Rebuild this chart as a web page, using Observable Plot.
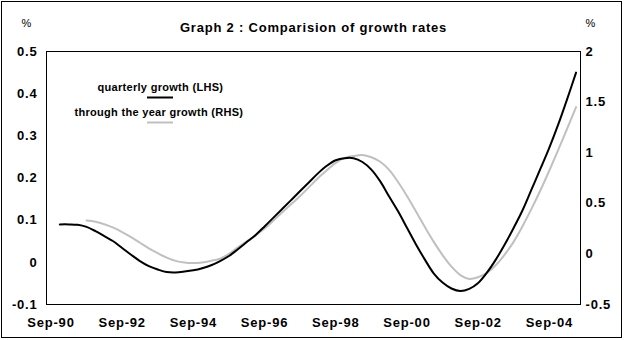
<!DOCTYPE html>
<html>
<head>
<meta charset="utf-8">
<script src="https://cdn.jsdelivr.net/npm/d3@7"></script>
<script src="https://cdn.jsdelivr.net/npm/@observablehq/plot@0.6"></script>
<style>
  html, body { margin: 0; padding: 0; background: white; }
</style>
</head>
<body>
<div id="chart"></div>
<script>
// Quarter index 0 = Sep-90 ... 59 = Jun-05
const xTicks = [0, 8, 16, 24, 32, 40, 48, 56];
const xTickLabels = ["Sep-90", "Sep-92", "Sep-94", "Sep-96", "Sep-98", "Sep-00", "Sep-02", "Sep-04"];
const leftTicks = [-0.1, 0, 0.1, 0.2, 0.3, 0.4, 0.5];
const rightTicks = [-0.5, 0, 0.5, 1, 1.5, 2];

// quarterly growth (LHS), %, from Sep-90 (index 0)
const quarterlyGrowth = [
  null, 0.090, 0.090, 0.089, 0.084, 0.074, 0.062, 0.050, 0.034, 0.018,
  0.003, -0.009, -0.017, -0.023, -0.024, -0.022, -0.019, -0.014, -0.007, 0.003,
  0.015, 0.031, 0.048, 0.065, 0.085, 0.106, 0.127, 0.148, 0.169, 0.190,
  0.211, 0.229, 0.242, 0.247, 0.247, 0.238, 0.220, 0.192, 0.156, 0.121,
  0.082, 0.043, 0.007, -0.026, -0.048, -0.062, -0.068, -0.063, -0.049, -0.024,
  0.007, 0.043, 0.082, 0.124, 0.173, 0.222, 0.272, 0.327, 0.387, 0.450
];

// through the year growth (RHS), %, from Sep-90 (index 0)
const throughYearGrowth = [
  null, null, null, null, 0.330, 0.318, 0.293, 0.259, 0.215, 0.165,
  0.110, 0.055, 0.007, -0.037, -0.069, -0.086, -0.091, -0.084, -0.068, -0.048,
  0.001, 0.064, 0.124, 0.182, 0.250, 0.331, 0.412, 0.492, 0.572, 0.660,
  0.748, 0.826, 0.899, 0.949, 0.967, 0.977, 0.955, 0.911, 0.830, 0.710,
  0.572, 0.422, 0.268, 0.121, -0.012, -0.125, -0.209, -0.247, -0.230, -0.187,
  -0.110, -0.005, 0.121, 0.275, 0.447, 0.629, 0.824, 1.027, 1.237, 1.450
];

const idx = d3.range(quarterlyGrowth.length);
const toLeft = d3.scaleLinear([-0.5, 2], [-0.1, 0.5]);
const fmt = d => String(Math.round(d * 10) / 10);

const plot = Plot.plot({
  width: 626,
  height: 340,
  marginLeft: 46,
  marginRight: 46,
  marginTop: 51,
  marginBottom: 36,
  style: "font-family: 'Liberation Sans', Arial, sans-serif; font-size: 13px; font-weight: bold; letter-spacing: 0.8px; background: white; overflow: visible; color: black;",
  x: { domain: [-0.5, 59.5], axis: null },
  y: { domain: [-0.1, 0.5], axis: null },
  marks: [
    Plot.axisX(xTicks, { anchor: "bottom", tickSize: 0, tickPadding: 13, tickFormat: d => xTickLabels[xTicks.indexOf(d)], label: null }),
    Plot.axisY(leftTicks, { anchor: "left", tickSize: 0, tickPadding: 9, tickFormat: fmt, label: null }),
    Plot.axisY(rightTicks.map(toLeft), { anchor: "right", tickSize: 0, tickPadding: 5, tickFormat: d => fmt(toLeft.invert(d)), label: null }),
    Plot.line(idx, { x: i => i, y: i => throughYearGrowth[i] == null ? NaN : toLeft(throughYearGrowth[i]), stroke: "#c0c0c0", strokeWidth: 2, curve: "catmull-rom" }),
    Plot.line(idx, { x: i => i, y: i => quarterlyGrowth[i] == null ? NaN : quarterlyGrowth[i], stroke: "black", strokeWidth: 2, curve: "catmull-rom" }),
    Plot.frame({ stroke: "black" }),
    Plot.text(["Graph 2 : Comparision of growth rates"], { frameAnchor: "top", dy: -24, lineAnchor: "middle", fontSize: 13 }),
    Plot.text(["%"], { frameAnchor: "top-left", textAnchor: "middle", dx: -20, dy: -28, lineAnchor: "middle", fontSize: 11, fontWeight: "normal" }),
    Plot.text(["%"], { frameAnchor: "top-right", textAnchor: "middle", dx: 10, dy: -28, lineAnchor: "middle", fontSize: 11, fontWeight: "normal" }),
    Plot.text(["quarterly growth (LHS)"], { frameAnchor: "top-left", textAnchor: "start", dx: 51, dy: 35.5, lineAnchor: "middle", fontSize: 11 }),
    Plot.text(["through the year growth (RHS)"], { frameAnchor: "top-left", textAnchor: "start", dx: 28, dy: 60.5, lineAnchor: "middle", fontSize: 11 })
  ]
});

const svg = d3.select(plot);
svg.selectAll("text").filter(function() { return this.textContent === "%"; }).style("letter-spacing", "0px");
svg.selectAll("text").filter(function() { return /growth \(/.test(this.textContent); }).style("letter-spacing", "0.3px");
svg.append("line").attr("x1", 147).attr("x2", 173).attr("y1", 97.5).attr("y2", 97.5).attr("stroke", "black").attr("stroke-width", 2);
svg.append("line").attr("x1", 147).attr("x2", 173).attr("y1", 122.5).attr("y2", 122.5).attr("stroke", "#c0c0c0").attr("stroke-width", 2);
svg.append("rect").attr("x", 1.5).attr("y", 1.5).attr("width", 620).attr("height", 336).attr("fill", "none").attr("stroke", "black");

document.getElementById("chart").appendChild(plot);
</script>
</body>
</html>
